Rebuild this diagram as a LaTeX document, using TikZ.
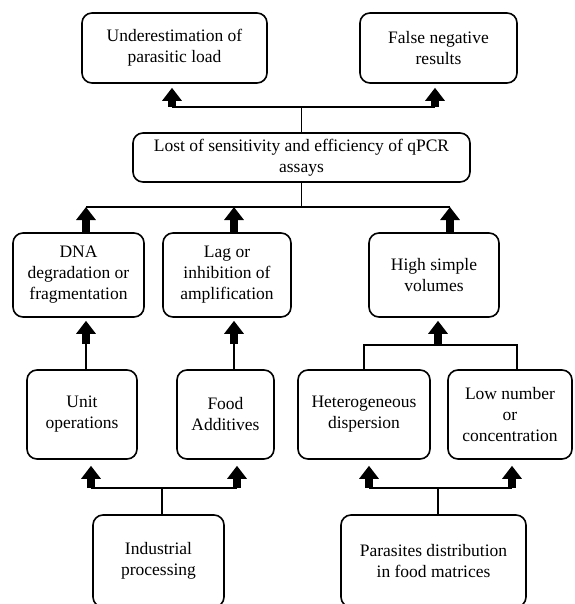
\documentclass[tikz,border=0pt]{standalone}
\usepackage{fontspec}
\setmainfont{Liberation Serif}
\usetikzlibrary{arrows.meta}

\tikzset{
	box/.style={draw, line width=1.6pt, rounded corners=10pt, align=center, inner sep=2pt},
	link/.style={line width=1.6pt},
	blockarrow/.style={line width=8pt, -{Triangle[length=13pt,width=19pt]}},
}

\begin{document}
\begin{tikzpicture}[x=1pt, y=-1pt, font=\fontsize{17.5}{21}\selectfont]
	\useasboundingbox (0,0) rectangle (574,604);

	\node[box, minimum width=185pt, minimum height=70pt] (under) at (174.5,48) {Underestimation of\\parasitic load};
	\node[box, minimum width=157pt, minimum height=70pt] (falseneg) at (438.5,48) {False negative\\results};
	\node[box, minimum width=337pt, minimum height=49pt] (lost) at (301.5,157.5) {Lost of sensitivity and efficiency of qPCR\\assays};

	\node[box, minimum width=131pt, minimum height=84pt] (dna) at (78.5,275) {DNA\\degradation or\\fragmentation};
	\node[box, minimum width=128pt, minimum height=84pt] (lag) at (227,275) {Lag or\\inhibition of\\amplification};
	\node[box, minimum width=130pt, minimum height=84pt] (high) at (434,275) {High simple\\volumes};

	\node[box, minimum width=110pt, minimum height=89pt] (unit) at (82,414.5) {Unit\\operations};
	\node[box, minimum width=97pt, minimum height=89pt] (food) at (225.5,414.5) {Food\\Additives};
	\node[box, minimum width=132pt, minimum height=89pt] (hetero) at (364,414.5) {Heterogeneous\\dispersion};
	\node[box, minimum width=124pt, minimum height=89pt] (low) at (510,414.5) {Low number\\or\\concentration};

	\node[box, minimum width=131pt, minimum height=92pt] (industrial) at (158.5,561) {Industrial\\processing};
	\node[box, minimum width=185pt, minimum height=92pt] (parasites) at (433.5,561) {Parasites distribution\\in food matrices};

	% lost -> consequences
	\coordinate (t1) at (172,107);
	\coordinate (t2) at (435,107);
	\draw[link] (lost.north) -- (lost.north |- t1);
	\draw[link] (t1) -- (t2);
	\draw[blockarrow, shorten >=4pt] (t1) -- (t1 |- under.south);
	\draw[blockarrow, shorten >=4pt] (t2) -- (t2 |- falseneg.south);

	% causes -> lost
	\coordinate (m1) at (86,207);
	\coordinate (m2) at (234,207);
	\coordinate (m3) at (450,207);
	\draw[link] (lost.south) -- (lost.south |- m1);
	\draw[link] (m1) -- (m3);
	\draw[blockarrow] (m1 |- dna.north) -- (m1);
	\draw[blockarrow] (m2 |- lag.north) -- (m2);
	\draw[blockarrow] (m3 |- high.north) -- (m3);

	\coordinate (u1) at (86,344);
	\coordinate (u2) at (234,344);
	\draw[link] (u1 |- unit.north) -- (u1);
	\draw[blockarrow, shorten >=3pt] (u1) -- (u1 |- dna.south);
	\draw[link] (u2 |- food.north) -- (u2);
	\draw[blockarrow, shorten >=3pt] (u2) -- (u2 |- lag.south);

	\coordinate (h1) at (364,345);
	\coordinate (h2) at (517,345);
	\coordinate (h3) at (438,345);
	\draw[link] (h1 |- hetero.north) -- (h1) -- (h2) -- (h2 |- low.north);
	\draw[blockarrow, shorten >=3pt] (h3) -- (h3 |- high.south);

	% sources
	\coordinate (b0) at (162,488);
	\coordinate (b1) at (91,488);
	\coordinate (b2) at (237,488);
	\draw[link] (b0 |- industrial.north) -- (b0);
	\draw[link] (b1) -- (b2);
	\draw[blockarrow, shorten >=6pt] (b1) -- (b1 |- unit.south);
	\draw[blockarrow, shorten >=6pt] (b2) -- (b2 |- food.south);

	\coordinate (p0) at (438,488);
	\coordinate (p1) at (369,488);
	\coordinate (p2) at (512,488);
	\draw[link] (p0 |- parasites.north) -- (p0);
	\draw[link] (p1) -- (p2);
	\draw[blockarrow, shorten >=6pt] (p1) -- (p1 |- hetero.south);
	\draw[blockarrow, shorten >=6pt] (p2) -- (p2 |- low.south);
\end{tikzpicture}
\end{document}
